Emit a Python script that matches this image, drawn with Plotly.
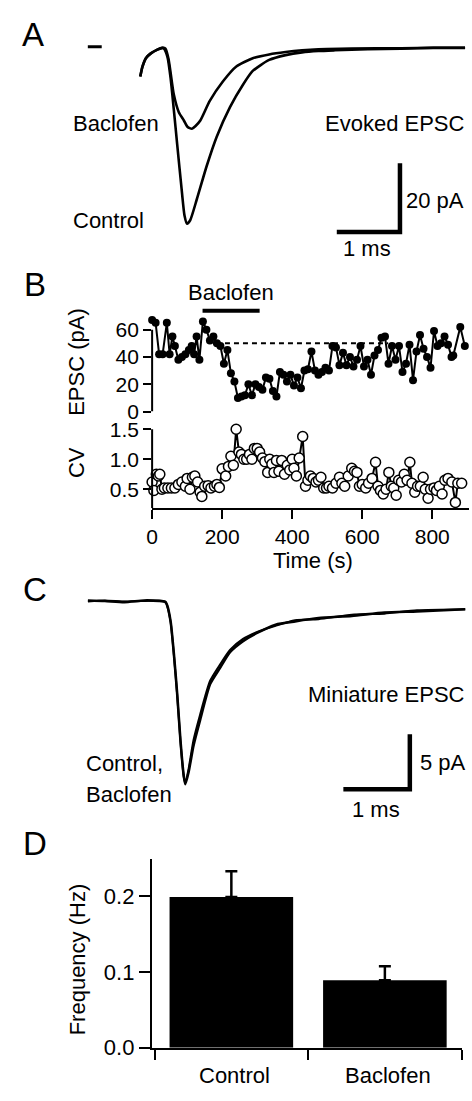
import plotly.graph_objects as go

W, H = 472, 1101
def fx(p): return p / W
def fy(p): return 1 - p / H

FONT = "Liberation Sans, Arial, sans-serif"

# ---------------- Panel A: evoked EPSC traces (ms, pA) ----------------
a_ctrl_t = [0.0, 0.036, 0.089, 0.167, 0.27, 0.35, 0.375, 0.43, 0.48, 0.53, 0.583, 0.66, 0.70, 0.74,
            0.79, 0.895, 1.05, 1.21, 1.42, 1.625, 1.78, 2.04, 2.30, 2.56, 2.82, 3.08, 3.6, 4.125, 4.64, 5.14]
a_ctrl_i = [-8.2, -5.3, -2.9, -1.5, -0.4, 0.1, -0.1, -2.5, -8.7, -17.7, -27.7, -42, -48.6, -51,
            -50, -43.9, -34.3, -25.7, -17.1, -10.6, -6.6, -3.4, -2.0, -1.2, -0.8, -0.6, -0.3, -0.1, 0.1, 0.1]
a_bac_t = [0.0, 0.036, 0.089, 0.167, 0.27, 0.35, 0.40, 0.45, 0.53, 0.61, 0.69, 0.75, 0.817, 0.875,
           0.95, 1.10, 1.31, 1.52, 1.78, 2.04, 2.30, 2.56, 2.82, 3.34, 4.125, 4.64, 5.14]
a_bac_i = [-8.2, -5.3, -2.9, -1.5, -0.4, 0.1, -0.1, -3.4, -13.4, -18.6, -21, -22.9, -23.4, -22.6,
           -21, -15.3, -9.6, -5.3, -2.9, -1.8, -1.1, -0.6, -0.3, -0.1, 0.0, 0.15, 0.15]
a_artifact_t = [-0.83, -0.61]
a_artifact_i = [0.4, 0.4]

# ---------------- Panel B: time course ----------------
epsc_t = [0, 10, 20, 30, 42, 50, 58, 65, 75, 85, 95, 105, 113, 120, 127, 135, 145, 155, 165, 175,
          185, 195, 205, 215, 225, 235, 245, 255, 265, 275, 285, 295, 305, 315, 325, 335, 345, 355,
          365, 375, 385, 395, 405, 415, 425, 435, 445, 455, 465, 475, 485, 495, 505, 515, 525, 535,
          545, 555, 565, 575, 585, 595, 605, 615, 625, 635, 645, 655, 665, 675, 685, 695, 705, 715,
          725, 735, 745, 755, 765, 775, 785, 795, 805, 815, 825, 835, 845, 855, 860, 880, 893]
epsc_pa = [67, 65, 42, 42, 65, 42, 55, 48, 38, 40, 42, 45, 48, 42, 55, 38, 66, 60, 52, 55,
           50, 48, 35, 45, 28, 22, 10, 11, 12, 20, 12, 20, 18, 16, 25, 24, 15, 11,
           29, 27, 22, 27, 19, 25, 17, 30, 31, 44, 30, 27, 29, 32, 30, 48, 47, 34,
           43, 34, 40, 33, 38, 48, 33, 38, 27, 41, 45, 54, 55, 35, 48, 38, 48, 29,
           35, 49, 23, 44, 56, 46, 40, 32, 59, 48, 50, 55, 49, 40, 41, 62, 48]
cv_t = [0, 5, 12, 18, 22, 28, 35, 45, 55, 65, 75, 85, 95, 100, 108, 115, 122, 130, 137, 142,
        150, 160, 168, 178, 185, 192, 200, 210, 218, 225, 232, 240, 248, 255, 262, 270, 278, 285, 292, 300,
        307, 315, 322, 330, 336, 342, 348, 355, 362, 370, 378, 386, 393, 400, 405, 412, 420, 430, 438, 445,
        452, 460, 468, 475, 482, 490, 498, 505, 515, 525, 535, 542, 550, 560, 570, 578, 585, 592, 600, 610,
        618, 628, 638, 645, 652, 660, 668, 676, 683, 690, 697, 704, 712, 720, 728, 736, 742, 750, 758, 766,
        774, 780, 788, 795, 805, 812, 820, 828, 836, 845, 856, 866, 873, 884]
cv_val = [0.62, 0.48, 0.75, 0.72, 0.75, 0.5, 0.52, 0.52, 0.52, 0.52,
          0.58, 0.62, 0.55, 0.68, 0.5, 0.7, 0.72, 0.62, 0.45, 0.38,
          0.55, 0.56, 0.52, 0.55, 0.58, 0.53, 0.84, 0.72, 0.88, 1.05,
          0.9, 1.5, 1.12, 1.08, 1.0, 1.0, 1.08, 1.0, 1.18, 1.18,
          1.12, 1.02, 0.96, 0.78, 1.0, 0.92, 0.78, 0.98, 0.8, 0.98,
          0.75, 0.9, 0.82, 1.0, 0.85, 0.72, 1.02, 1.38, 0.55, 0.65,
          0.72, 0.68, 0.62, 0.65, 0.7, 0.52, 0.52, 0.55, 0.52, 0.6,
          0.7, 0.6, 0.55, 0.72, 0.85, 0.8, 0.78, 0.55, 0.58, 0.52,
          0.6, 0.68, 0.95, 0.55, 0.48, 0.42, 0.5, 0.78, 0.55, 0.52,
          0.4, 0.65, 0.62, 0.75, 0.65, 0.95, 0.6, 0.45, 0.55, 0.55,
          0.7, 0.5, 0.35, 0.5, 0.52, 0.48, 0.55, 0.42, 0.65, 0.68,
          0.62, 0.28, 0.6, 0.6]
baseline_t = [208, 674]
baseline_pa = [50, 50]
baclofen_period = [144, 307]
b_xticks = [0, 200, 400, 600, 800]
b_epsc_ticks = [0, 20, 40, 60]
b_cv_ticks = [0.5, 1.0, 1.5]
b_cv_ticktext = ["0.5", "1.0", "1.5"]

# ---------------- Panel C: miniature EPSC traces ----------------
c_t = [0, 0.26, 0.56, 0.86, 1.09, 1.19, 1.217, 1.27, 1.32, 1.37, 1.42, 1.47, 1.495, 1.545, 1.62,
       1.72, 1.875, 2.03, 2.18, 2.38, 2.58, 2.88, 3.18, 3.54, 4.05, 4.55, 5.05, 5.79]
c_ctrl = [0.1, 0.05, -0.05, 0.1, 0.05, -0.05, -0.36, -1.85, -4.8, -8.4, -12.6, -15.8, -16.6, -15.5, -13.1,
          -10.8, -7.5, -6.0, -4.6, -3.6, -2.9, -2.1, -1.8, -1.5, -1.3, -1.0, -0.9, -0.7]
c_bac = [0.0, 0.1, 0.0, 0.05, 0.1, 0.0, -0.4, -1.9, -4.9, -8.5, -12.7, -15.9, -16.5, -15.2, -12.6,
         -10.3, -7.2, -5.7, -4.4, -3.4, -2.8, -2.2, -1.7, -1.6, -1.2, -1.1, -0.8, -0.7]

# ---------------- Panel D: frequency ----------------
categories = ["Control", "Baclofen"]
freq_hz = [0.199, 0.089]
freq_err = [0.034, 0.0185]
d_yticks = [0.0, 0.1, 0.2]
d_yticktext = ["0.0", "0.1", "0.2"]

fig = go.Figure()
blk = "black"

# A
fig.add_trace(go.Scatter(x=a_ctrl_t, y=a_ctrl_i, mode="lines", line=dict(color=blk, width=2.6, shape="spline", smoothing=0.6), xaxis="x", yaxis="y"))
fig.add_trace(go.Scatter(x=a_bac_t, y=a_bac_i, mode="lines", line=dict(color=blk, width=2.6, shape="spline", smoothing=0.6), xaxis="x", yaxis="y"))
fig.add_trace(go.Scatter(x=a_artifact_t, y=a_artifact_i, mode="lines", line=dict(color=blk, width=3), xaxis="x", yaxis="y"))
# A scale bar (1 ms, 20 pA)
fig.add_trace(go.Scatter(x=[3.11, 4.11, 4.11], y=[-53.4, -53.4, -33.4], mode="lines", line=dict(color=blk, width=4.5), xaxis="x", yaxis="y"))

# B
fig.add_trace(go.Scatter(x=baseline_t, y=baseline_pa, mode="lines", line=dict(color=blk, width=2, dash="5px,4px"), xaxis="x2", yaxis="y2"))
fig.add_trace(go.Scatter(x=epsc_t, y=epsc_pa, mode="lines+markers", line=dict(color=blk, width=2),
                         marker=dict(color=blk, size=8), cliponaxis=False, xaxis="x2", yaxis="y2"))
fig.add_trace(go.Scatter(x=cv_t, y=cv_val, mode="lines+markers", line=dict(color=blk, width=2),
                         marker=dict(color="white", size=10, line=dict(color=blk, width=1.5)), cliponaxis=False, xaxis="x3", yaxis="y3"))

# C
fig.add_trace(go.Scatter(x=c_t, y=c_ctrl, mode="lines", line=dict(color=blk, width=2.6, shape="spline", smoothing=0.6), xaxis="x4", yaxis="y4"))
fig.add_trace(go.Scatter(x=c_t, y=c_bac, mode="lines", line=dict(color=blk, width=2, shape="spline", smoothing=0.6), xaxis="x4", yaxis="y4"))
fig.add_trace(go.Scatter(x=[3.92, 4.94, 4.94], y=[-17.05, -17.05, -12.05], mode="lines", line=dict(color=blk, width=4.5), xaxis="x4", yaxis="y4"))

# D
fig.add_trace(go.Bar(x=[0, 1], y=freq_hz, width=0.805, marker=dict(color=blk, line=dict(width=0)),
                     error_y=dict(type="data", array=freq_err, arrayminus=[0, 0], symmetric=False,
                                  color=blk, thickness=2.5, width=6),
                     xaxis="x5", yaxis="y5"))

hidden = dict(visible=False, showgrid=False, zeroline=False)
tickfont = dict(family=FONT, size=22, color=blk)
btickfont = dict(family=FONT, size=21, color=blk)

layout = dict(
    width=W, height=H, margin=dict(l=0, r=0, t=0, b=0),
    paper_bgcolor="white", plot_bgcolor="white", showlegend=False,
    font=dict(family=FONT, size=22, color=blk),
    xaxis=dict(domain=[fx(80), fx(472)], range=[-0.875, 5.25], anchor="y", **hidden),
    yaxis=dict(domain=[fy(260), fy(30)], range=[-62.0, 3.71], anchor="x", **hidden),
    xaxis2=dict(domain=[fx(148), fx(469)], range=[0, 905], anchor="y2", **hidden),
    yaxis2=dict(domain=[fy(412.7), fy(315)], range=[0, 70.3], anchor="x2",
                tickvals=b_epsc_ticks, ticks="outside", ticklen=8, tickwidth=2, tickcolor=blk,
                showline=False, showgrid=False, zeroline=False, tickfont=btickfont),
    xaxis3=dict(domain=[fx(148), fx(469)], range=[0, 905], anchor="y3",
                tickvals=b_xticks, ticks="outside", ticklen=9, tickwidth=2, tickcolor=blk,
                showline=True, linewidth=2, linecolor=blk, showgrid=False, zeroline=False, tickfont=btickfont),
    yaxis3=dict(domain=[fy(511), fy(425)], range=[0.184, 1.593], anchor="x3",
                tickvals=b_cv_ticks, ticktext=b_cv_ticktext, ticks="outside", ticklen=8, tickwidth=2, tickcolor=blk,
                showline=False, showgrid=False, zeroline=False, tickfont=btickfont),
    xaxis4=dict(domain=[fx(80), fx(472)], range=[-0.045, 5.894], anchor="y4", **hidden),
    yaxis4=dict(domain=[fy(830), fy(580)], range=[-20.0, 2.32], anchor="x4", **hidden),
    xaxis5=dict(domain=[fx(147.7), fx(461.5)], range=[-0.518, 1.5], anchor="y5",
                tickvals=[-0.5, 0.5, 1.5], ticktext=["", "", ""], ticks="outside", ticklen=10, tickwidth=2, tickcolor=blk,
                showline=True, linewidth=2, linecolor=blk, showgrid=False, zeroline=False),
    yaxis5=dict(domain=[fy(1060), fy(868)], range=[0, 0.249], anchor="x5",
                tickvals=d_yticks, ticktext=d_yticktext, ticks="outside", ticklen=11, tickwidth=2, tickcolor=blk,
                showline=True, linewidth=2, linecolor=blk, showgrid=False, zeroline=False, tickfont=tickfont),
)
fig.update_layout(**layout)

shapes = [
    dict(type="line", xref="x2 domain", yref="y2", x0=0, x1=0, y0=0, y1=60, line=dict(color=blk, width=2)),
    dict(type="line", xref="x3 domain", yref="y3", x0=0, x1=0, y0=0.184, y1=1.5, line=dict(color=blk, width=2)),
    dict(type="line", xref="x2", yref="paper", x0=baclofen_period[0], x1=baclofen_period[1],
         y0=fy(310), y1=fy(310), line=dict(color=blk, width=4)),
]
fig.update_layout(shapes=shapes)

def ann(text, x, y, xanchor="left", size=22, angle=0, **kw):
    return dict(text=text, x=fx(x), y=fy(y), xref="paper", yref="paper", xanchor=xanchor, yanchor="middle",
                showarrow=False, textangle=angle, font=dict(family=FONT, size=size, color=blk), **kw)

annotations = [
    ann("A", 14, 29, size=33), ann("B", 16, 283, size=33), ann("C", 15, 594, size=33), ann("D", 15, 852, size=33),
    ann("Baclofen", 66, 120), ann("Control", 66, 218), ann("Evoked EPSC", 467, 120, xanchor="right"),
    ann("20 pA", 403, 198), ann("1 ms", 366, 247, xanchor="center"),
    ann("Baclofen", 228, 292, xanchor="center"),
    ann("EPSC (pA)", 72, 362, xanchor="center", angle=-90),
    ann("CV", 72, 465, xanchor="center", angle=-90),
    ann("Time (s)", 311, 564, xanchor="center"),
    ann("Miniature EPSC", 467, 701, xanchor="right"),
    ann("Control,", 79, 771), ann("Baclofen", 79, 802),
    ann("5 pA", 417, 770), ann("1 ms", 375, 818, xanchor="center"),
    ann("Frequency (Hz)", 72, 970, xanchor="center", angle=-90),
]
for i, c in enumerate(categories):
    annotations.append(dict(text=c, x=i, y=fy(1088), xref="x5", yref="paper", xanchor="center", yanchor="middle",
                            xshift=3, showarrow=False, font=dict(family=FONT, size=22, color=blk)))
fig.update_layout(annotations=annotations)

fig.write_html("out.html", config={"displayModeBar": False},
               post_script="document.body.style.margin='0';document.body.style.padding='0';document.body.style.overflow='hidden';")
